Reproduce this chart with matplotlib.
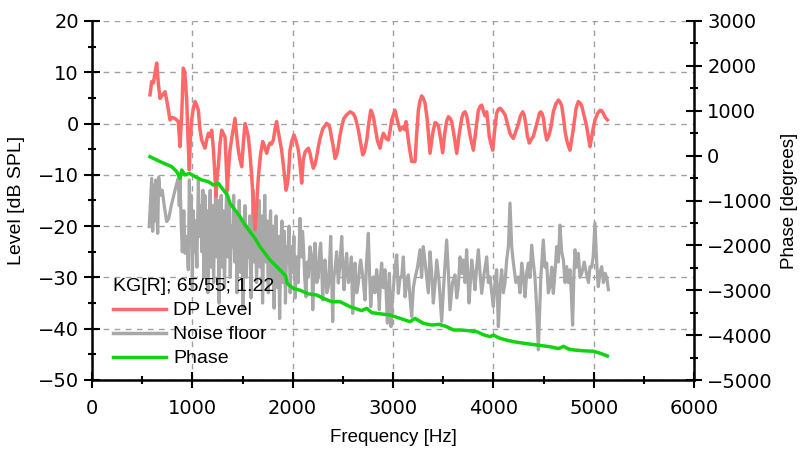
import matplotlib
matplotlib.use("Agg")
import matplotlib.pyplot as plt
from matplotlib.ticker import MultipleLocator

# ---------------- data ----------------
dp_freq = [578, 595, 611, 630, 645, 660, 678, 700, 728, 750, 777, 800, 827, 860, 877, 895, 910, 925, 944, 957,
           970, 980, 993, 1010, 1027, 1045, 1060, 1075, 1093, 1110, 1126, 1145, 1160, 1175, 1193, 1210, 1225, 1236,
           1248, 1259, 1275, 1293, 1310, 1326, 1338, 1349, 1360, 1375, 1400, 1425, 1440, 1458, 1475, 1492, 1508,
           1525, 1540, 1558, 1575, 1592, 1610, 1625, 1640, 1658, 1680, 1701, 1720, 1741, 1758, 1774, 1790, 1807,
           1825, 1840, 1865, 1890, 1912, 1934, 1945, 1957, 1973, 1990, 2013, 2035, 2057, 2073, 2090, 2106, 2125,
           2156, 2173, 2190, 2206, 2222, 2239, 2256, 2273, 2300, 2339, 2360, 2372, 2390, 2405, 2422, 2440, 2455,
           2470, 2489, 2510, 2538, 2555, 2572, 2600, 2621, 2640, 2655, 2675, 2698, 2715, 2738, 2758, 2778, 2790,
           2804, 2825, 2844, 2871, 2888, 2904, 2920, 2930, 2954, 2970, 2987, 3020, 3045, 3070, 3090, 3103, 3118,
           3130, 3153, 3170, 3186, 3203, 3219, 3236, 3253, 3270, 3286, 3300, 3319, 3340, 3369, 3395, 3419, 3435,
           3452, 3475, 3495, 3515, 3535, 3552, 3570, 3585, 3610, 3635, 3660, 3685, 3700, 3718, 3735, 3751, 3775,
           3801, 3825, 3851, 3870, 3884, 3900, 3917, 3934, 3947, 3960, 3977, 3994, 4015, 4033, 4050, 4067, 4090,
           4117, 4140, 4166, 4183, 4200, 4225, 4249, 4270, 4293, 4310, 4326, 4340, 4359, 4380, 4399, 4420, 4440,
           4460, 4472, 4485, 4500, 4515, 4532, 4550, 4565, 4580, 4598, 4620, 4648, 4665, 4681, 4700, 4715, 4731,
           4750, 4764, 4790, 4808, 4825, 4847, 4865, 4880, 4905, 4930, 4950, 4964, 4985, 5013, 5040, 5063, 5080,
           5096, 5115, 5137]
dp_level = [5.6, 8.2, 7.9, 10.0, 11.8, 8.0, 4.9, 5.5, 6.2, 4.0, 0.7, 1.2, 1.0, 0.4, -4.5, 2.0, 10.8, 10.0, 4.6, -3.0,
            -9.0, -3.0, 0.7, 3.0, 4.3, 3.5, 2.6, -1.0, -3.2, -4.0, -4.8, -3.0, -1.9, -2.5, -1.3, -5.0, -10.0, -14.2,
            -10.0, -8.4, -4.0, -1.3, -2.0, -2.6, -8.0, -13.0, -9.0, -5.2, -2.0, 1.0, -2.0, -5.1, -7.0, -8.4, -4.0,
            0.0, -1.0, -2.6, -6.0, -10.4, -16.0, -20.7, -16.0, -10.4, -6.0, -3.5, -4.5, -5.8, -4.5, -3.8, -4.0, -3.2,
            -1.0, 0.4, -2.5, -5.2, -9.0, -13.0, -12.0, -10.4, -5.2, -3.5, -2.2, -3.5, -5.2, -8.0, -11.6, -7.0, -5.5,
            -4.8, -5.8, -7.5, -8.7, -8.0, -6.5, -4.5, -2.9, -1.0, 0.05, -0.3, -1.0, -3.0, -4.5, -6.8, -6.0, -4.5,
            -2.5, -0.6, 1.0, 1.7, 2.0, 2.3, 2.0, 1.35, 0.0, -1.3, -3.5, -6.1, -5.5, -3.3, 0.0, 2.6, 2.2,
            1.3, -1.0, -3.3, -4.8, -3.0, -1.9, -2.4, -2.9, -3.2, -1.5, 0.7, 2.6, 0.5, -1.3, -0.8, -0.6, -1.2,
            0.4, -3.3, -5.5, -7.4, -7.4, -7.4, -2.0, 2.6, 4.5, 5.4, 5.0, 4.0, 1.0, -5.8, -2.0, 0.2, 0.0,
            -0.4, -3.0, -5.7, -2.0, 0.5, 1.35, 1.0, 0.4, -2.5, -5.8, -2.0, 1.0, 2.0, 2.3, 1.5, -0.4, -3.0,
            -5.2, -1.5, 2.6, 3.4, 3.6, 2.5, 1.5, 2.3, 0.0, -2.6, -4.0, -5.2, -1.0, 2.0, 2.8, 3.0, 2.5,
            1.7, 0.0, -1.9, -2.5, -2.9, -1.5, -0.1, 1.5, 2.3, 1.5, -0.5, -2.5, -3.8, -3.0, -2.5, -1.0, 0.5,
            2.0, 2.3, 2.0, 1.0, -1.5, -3.2, -2.5, -1.5, 0.0, 2.3, 3.7, 4.6, 4.2, 3.5, 1.0, -1.5, -3.2,
            -4.5, -5.2, -2.0, 0.5, 3.0, 4.3, 4.0, 3.5, 1.5, -0.5, -3.0, -4.5, -2.0, 0.7, 2.0, 2.6, 2.5,
            2.0, 1.2, 0.7]

noise_freq = [570, 583, 595, 605, 615, 625, 635, 645, 655, 665, 680, 700, 720, 744, 765, 790, 815, 840, 860, 870,
              877, 890, 900, 915, 927, 945, 960, 970, 980, 990, 1000, 1010, 1020, 1030, 1045, 1060, 1072, 1085,
              1095, 1105, 1115, 1125, 1135, 1145, 1155, 1165, 1178, 1190, 1200, 1212, 1222, 1235, 1245, 1255,
              1265, 1275, 1288, 1298, 1310, 1320, 1332, 1342, 1355, 1365, 1378, 1390, 1400, 1412, 1422, 1435,
              1445, 1458, 1468, 1480, 1492, 1505, 1515, 1525, 1538, 1550, 1560, 1572, 1585, 1595, 1607, 1618,
              1630, 1640, 1652, 1665, 1677, 1688, 1700, 1712, 1722, 1735, 1745, 1757, 1768, 1780, 1790, 1802,
              1815, 1825, 1835, 1848, 1860, 1870, 1882, 1893, 1905, 1918, 1928, 1940, 1952, 1963, 1975, 1988,
              2000, 2012, 2025, 2040, 2055,
              2073, 2082, 2090, 2098, 2106, 2120, 2133, 2145, 2156, 2172, 2190, 2200, 2212, 2223, 2240, 2256,
              2268, 2279, 2290, 2299, 2310, 2322, 2340, 2356, 2368, 2379, 2399, 2410, 2422, 2438, 2455, 2472,
              2489, 2500, 2512, 2525, 2538, 2555, 2572, 2585, 2598, 2610, 2621, 2638, 2655, 2667, 2678, 2700,
              2721, 2737, 2754, 2766, 2778, 2790, 2804, 2820, 2837, 2850, 2864, 2875, 2887, 2903, 2920, 2932,
              2944, 2954, 2964, 2980, 2992, 3003, 3020, 3037, 3053, 3070, 3087, 3103, 3120, 3137, 3153, 3170,
              3186, 3203, 3219, 3244, 3269, 3285, 3302, 3320, 3336, 3352, 3369, 3385, 3402, 3420, 3436, 3460,
              3485, 3510, 3535, 3552, 3568, 3593, 3618, 3635, 3651, 3668, 3685, 3701, 3718, 3734, 3746, 3758,
              3771, 3784, 3800, 3817, 3834, 3851, 3867, 3884, 3910, 3934, 3950, 3967, 3984, 4000, 4016, 4033,
              4050, 4067, 4083, 4100, 4116, 4133, 4150, 4166, 4183, 4200, 4225, 4249, 4266, 4283, 4300, 4316,
              4333, 4349, 4365, 4382, 4398, 4415, 4432, 4449, 4473, 4498, 4515, 4532, 4548, 4565, 4582, 4598,
              4615, 4631, 4648, 4664, 4681, 4698, 4715, 4731, 4748, 4764, 4777, 4790, 4802, 4814, 4830, 4847,
              4864, 4881, 4906, 4931, 4948, 4964, 4980, 4995, 5013, 5030, 5046, 5063, 5080, 5097, 5113, 5130,
              5147]
noise_level = [-20.1, -15.0, -10.7, -21.0, -12.0, -19.0, -11.0, -17.0, -21.4, -10.4, -14.0, -13.0, -16.0, -19.1,
               -18.5, -16.0, -14.0, -12.0, -10.7, -16.0, -10.4, -20.0, -25.0, -17.0, -25.3, -22.0, -28.5, -11.0,
               -20.0, -14.0, -32.0, -17.0, -25.0, -19.0, -28.0, -11.0, -22.0, -16.0, -25.0, -13.0, -30.0, -14.0,
               -28.0, -17.0, -33.0, -20.0, -13.0, -28.0, -16.0, -31.0, -19.0, -12.0, -26.0, -15.0, -35.0, -21.0,
               -14.0, -28.0, -17.0, -32.0, -20.0, -13.0, -26.0, -16.0, -30.0, -20.0, -24.0, -14.0, -27.0, -18.0,
               -33.0, -21.0, -15.0, -29.0, -19.0, -36.0, -22.0, -16.0, -30.0, -20.0, -26.0, -18.0, -34.0, -22.0,
               -13.0, -27.0, -19.0, -31.0, -22.0, -15.0, -28.0, -18.0, -35.0, -21.0, -14.0, -27.0, -19.0, -33.0,
               -22.0, -17.0, -30.0, -20.0, -36.0, -24.0, -18.0, -32.0, -22.0, -38.0, -24.0, -19.0, -31.0, -21.0,
               -35.0, -24.0, -27.0, -20.0, -33.0, -24.0, -29.0, -22.0, -34.0, -26.0, -31.0,
               -18.5, -24.0, -26.0, -21.0, -23.3, -30.0, -33.8, -27.0, -29.9, -24.0, -26.0, -36.3, -28.0, -23.3,
               -31.0, -29.9, -25.0, -23.3, -28.0, -34.4, -29.0, -26.6, -33.0, -31.8, -27.0, -22.0, -38.6, -30.0,
               -28.5, -25.0, -31.1, -27.0, -22.0, -28.0, -32.4, -28.0, -25.3, -31.0, -29.2, -26.0, -37.0, -31.0,
               -27.2, -33.0, -31.1, -28.0, -26.6, -30.0, -34.4, -27.0, -21.4, -29.0, -35.7, -32.0, -29.9, -33.0,
               -28.5, -31.0, -36.3, -30.0, -27.2, -32.0, -28.5, -33.0, -38.9, -33.0, -29.2, -39.6, -35.0, -32.4,
               -28.0, -25.6, -33.1, -30.0, -29.9, -26.0, -33.8, -31.0, -29.5, -34.0, -37.6, -32.0, -30.2, -28.0,
               -24.6, -30.0, -24.0, -27.0, -29.9, -33.0, -25.0, -29.0, -35.0, -31.0, -26.6, -31.0, -38.6, -30.0,
               -22.7, -29.0, -36.3, -31.0, -29.5, -34.0, -31.8, -26.0, -29.2, -26.6, -31.0, -24.6, -30.0, -35.0,
               -31.0, -26.6, -29.0, -32.4, -28.0, -24.6, -29.0, -33.1, -29.0, -26.0, -31.0, -29.9, -33.0, -35.7,
               -31.0, -28.5, -39.6, -32.0, -28.5, -33.0, -31.1, -26.6, -24.0, -15.5, -24.0, -27.2, -31.0, -29.9,
               -33.0, -27.2, -30.0, -33.8, -29.0, -27.2, -30.0, -23.7, -27.0, -29.9, -36.0, -44.1, -30.0, -22.7,
               -28.0, -27.2, -33.0, -31.8, -28.0, -33.1, -29.0, -24.0, -27.0, -19.8, -25.0, -26.6, -31.0, -27.9,
               -31.0, -28.5, -33.0, -39.3, -30.0, -24.6, -28.0, -25.3, -30.0, -29.2, -27.0, -29.5, -31.0, -27.9,
               -28.0, -26.0, -19.4, -27.0, -31.8, -29.0, -27.9, -31.0, -29.2, -30.0, -32.4]

phase_freq = [578, 678, 794, 844, 877, 894, 927, 970, 1027, 1093, 1160, 1210, 1259, 1309, 1349, 1375, 1425, 1475,
              1525, 1575, 1625, 1674, 1724, 1774, 1824, 1874, 1930, 1945, 1973, 2007, 2073, 2106, 2156, 2239,
              2306, 2389, 2472, 2572, 2688, 2738, 2788, 2887, 2970, 3070, 3170, 3219, 3302, 3386, 3460, 3535,
              3602, 3668, 3750, 3834, 3900, 3967, 4000, 4067, 4130, 4200, 4300, 4432, 4500, 4565, 4650, 4700,
              4750, 4800, 4900, 5000, 5060, 5137]
phase_deg = [-24, -133, -245, -356, -505, -320, -431, -394, -468, -542, -580, -655, -617, -765, -877, -1062, -1212,
             -1360, -1546, -1695, -1843, -2030, -2177, -2326, -2437, -2549, -2680, -2846, -2900, -2957, -3000,
             -3032, -3080, -3106, -3180, -3255, -3255, -3367, -3455, -3403, -3500, -3529, -3552, -3626, -3701,
             -3626, -3737, -3775, -3760, -3812, -3886, -3886, -3900, -3923, -3990, -4035, -4000, -4071, -4110,
             -4146, -4180, -4220, -4240, -4258, -4300, -4250, -4310, -4330, -4350, -4360, -4400, -4465]

legend_title = "KG[R]; 65/55; 1.22"
labels = ["DP Level", "Noise floor", "Phase"]

# ---------------- figure ----------------
fig = plt.figure(figsize=(8.05, 4.49), dpi=100)
ax = fig.add_axes([92 / 805, 1 - 380 / 449, (694 - 92) / 805, (380 - 21) / 449])
ax2 = ax.twinx()

red = "#ff6868"
gray = "#a8a8a8"
green = "#12d312"

l_noise, = ax.plot(noise_freq, noise_level, color=gray, lw=2.3, zorder=2)
l_dp, = ax.plot(dp_freq, dp_level, color=red, lw=2.5, zorder=3)
l_ph, = ax2.plot(phase_freq, phase_deg, color=green, lw=2.5, zorder=3)

ax.set_xlim(0, 6000)
ax.set_ylim(-50, 20)
ax2.set_ylim(-5000, 3000)

ax.xaxis.set_major_locator(MultipleLocator(1000))
ax.xaxis.set_minor_locator(MultipleLocator(500))
ax.yaxis.set_major_locator(MultipleLocator(10))
ax.yaxis.set_minor_locator(MultipleLocator(5))
ax2.yaxis.set_major_locator(MultipleLocator(1000))
ax2.yaxis.set_minor_locator(MultipleLocator(500))

ax.grid(True, which="major", color="#a0a0a0", linestyle=(0, (4, 4)), lw=1.0)

for a in (ax, ax2):
    a.spines["top"].set_visible(False)
    for s in ("left", "right", "bottom"):
        a.spines[s].set_linewidth(1.8)
ax.spines["right"].set_visible(False)
ax2.spines["left"].set_visible(False)
ax2.spines["bottom"].set_visible(False)

minor_kw = dict(direction="inout", width=1.5, colors="black", length=6)
ax.tick_params(axis="y", which="major", direction="inout", width=1.5, length=11, pad=4, labelsize=14)
ax.tick_params(axis="x", which="major", direction="inout", width=1.5, length=11, pad=8, labelsize=14)
ax.tick_params(axis="both", which="minor", **minor_kw)
ax2.tick_params(axis="y", which="major", direction="inout", width=1.5, length=11, pad=4, labelsize=14)
ax2.tick_params(axis="y", which="minor", **minor_kw)

lab_font = ["Liberation Sans", "DejaVu Sans"]
ax.set_xlabel("Frequency [Hz]", fontsize=13.5, family=lab_font, labelpad=8)
ax.set_ylabel("Level [dB SPL]", fontsize=14, family=lab_font, labelpad=9)
ax2.set_ylabel("Phase [degrees]", fontsize=13.5, family=lab_font, labelpad=6)

leg = ax.legend([l_dp, l_noise, l_ph], labels, title=legend_title, loc="lower left",
                bbox_to_anchor=(0.035, 0.035), frameon=False, alignment="left",
                prop={"family": lab_font, "size": 14}, title_fontproperties={"family": lab_font, "size": 14},
                handlelength=2.7, handletextpad=0.4, labelspacing=0.33, borderpad=0, borderaxespad=0)
for h in leg.get_lines():
    h.set_linewidth(2.5)
leg.set_zorder(10)

fig.savefig("out.png", dpi=100)
